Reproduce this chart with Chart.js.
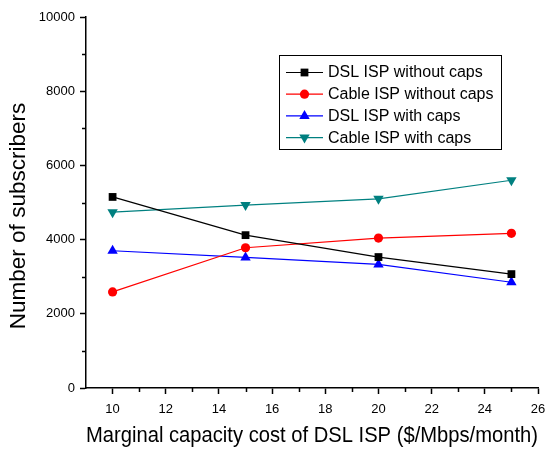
<!DOCTYPE html>
<html>
<head>
<meta charset="utf-8">
<script src="https://cdn.jsdelivr.net/npm/chart.js@4/dist/chart.umd.min.js"></script>
<style>
  html, body { margin: 0; padding: 0; background: #fff; }
  #wrap { width: 547px; height: 451px; position: relative; }
</style>
</head>
<body>
<div id="wrap"><canvas id="c" width="547" height="451"></canvas></div>
<script>
const xValues = [10, 15, 20, 25];
const dslNoCaps = [5150, 4120, 3530, 3070];
const cableNoCaps = [2590, 3780, 4040, 4170];
const dslCaps = [3700, 3520, 3330, 2850];
const cableCaps = [4740, 4930, 5100, 5600];
const seriesNames = ['DSL ISP without caps', 'Cable ISP without caps', 'DSL ISP with caps', 'Cable ISP with caps'];
const xMajorTicks = [10, 12, 14, 16, 18, 20, 22, 24, 26];
const xMinorTicks = [11, 13, 15, 17, 19, 21, 23, 25];
const yMajorTicks = [0, 2000, 4000, 6000, 8000, 10000];
const yMinorTicks = [1000, 3000, 5000, 7000, 9000];
const xTitle = 'Marginal capacity cost of DSL ISP ($/Mbps/month)';
const yTitle = 'Number of subscribers';

const FONT = "'Liberation Sans', Arial, sans-serif";
const toPts = arr => arr.map((v, i) => ({ x: xValues[i], y: v }));

function ds(label, values, color, style, rotation, radius) {
  return {
    label, data: toPts(values),
    borderColor: color, backgroundColor: color,
    borderWidth: 1.2,
    pointStyle: style, pointRotation: rotation, pointRadius: radius,
    pointBorderWidth: 0, pointBackgroundColor: color, pointHoverRadius: radius,
    tension: 0, fill: false
  };
}

const datasets = [
  ds(seriesNames[0], dslNoCaps, '#000000', 'rect', 0, 5.5),
  ds(seriesNames[1], cableNoCaps, '#ff0000', 'circle', 0, 4.6),
  ds(seriesNames[2], dslCaps, '#0000ff', 'triangle', 0, 6),
  ds(seriesNames[3], cableCaps, '#008080', 'triangle', 180, 6)
];

const extras = {
  id: 'extras',
  afterDraw(chart) {
    const ctx = chart.ctx;
    const xs = chart.scales.x, ys = chart.scales.y;
    ctx.save();
    // minor ticks
    ctx.strokeStyle = '#000';
    ctx.lineWidth = 1.5;
    ctx.beginPath();
    xMinorTicks.forEach(v => {
      const px = Math.round(xs.getPixelForValue(v)) + 0.5;
      ctx.moveTo(px, xs.top); ctx.lineTo(px, xs.top + 4);
    });
    yMinorTicks.forEach(v => {
      const py = Math.round(ys.getPixelForValue(v)) + 0.5;
      ctx.moveTo(ys.right, py); ctx.lineTo(ys.right - 4, py);
    });
    ctx.stroke();

    // y title
    ctx.fillStyle = '#000';
    ctx.font = '22.5px ' + FONT;
    ctx.translate(25, 216);
    ctx.rotate(-Math.PI / 2);
    ctx.textAlign = 'center';
    ctx.textBaseline = 'alphabetic';
    ctx.fillText(yTitle, 0, 0);
    ctx.restore();

    // legend
    ctx.save();
    const bx = 279.5, by = 55.5, bw = 222, bh = 94;
    ctx.fillStyle = '#fff';
    ctx.fillRect(bx, by, bw, bh);
    ctx.strokeStyle = '#000';
    ctx.lineWidth = 1;
    ctx.strokeRect(bx, by, bw, bh);
    ctx.font = '16px ' + FONT;
    ctx.textBaseline = 'middle';
    ctx.textAlign = 'left';
    chart.data.datasets.forEach((d, i) => {
      const y = 72.5 + i * 21.7;
      ctx.strokeStyle = d.borderColor;
      ctx.lineWidth = 1.2;
      ctx.beginPath();
      ctx.moveTo(286, y); ctx.lineTo(323, y);
      ctx.stroke();
      ctx.fillStyle = d.backgroundColor;
      Chart.helpers.drawPoint(ctx, { pointStyle: d.pointStyle, rotation: d.pointRotation, radius: d.pointRadius, borderWidth: 0 }, 304.5, y);
      ctx.fillStyle = '#000';
      ctx.fillText(d.label, 328, y + 0.5);
    });
    ctx.restore();
  }
};

new Chart(document.getElementById('c'), {
  type: 'line',
  data: { datasets },
  plugins: [extras],
  options: {
    responsive: false,
    animation: false,
    events: [],
    layout: { padding: { top: 17, right: 9, left: 0, bottom: 0 } },
    plugins: { legend: { display: false }, tooltip: { enabled: false } },
    scales: {
      x: {
        type: 'linear', min: 9, max: 26,
        afterBuildTicks: s => { s.ticks = xMajorTicks.map(v => ({ value: v })); },
        afterFit: s => { s.height = 63; s.paddingLeft = 0; s.paddingRight = 0; },
        border: { display: true, color: '#000', width: 1.5 },
        grid: { display: true, drawOnChartArea: false, drawTicks: true, tickLength: 6, tickColor: '#000', tickWidth: 1.5 },
        ticks: { color: '#000', font: { family: FONT, size: 13 }, padding: 8, maxRotation: 0, autoSkip: false, callback: v => String(v) },
        title: { display: true, text: xTitle, color: '#000', font: { family: FONT, size: 22.6 }, padding: { top: 0, bottom: 2 } }
      },
      y: {
        type: 'linear', min: 0, max: 10000,
        afterBuildTicks: s => { s.ticks = yMajorTicks.map(v => ({ value: v })); },
        afterFit: s => { s.width = 86; s.paddingTop = 0; s.paddingBottom = 0; },
        border: { display: true, color: '#000', width: 1.5 },
        grid: { display: true, drawOnChartArea: false, drawTicks: true, tickLength: 6, tickColor: '#000', tickWidth: 1.5 },
        ticks: { color: '#000', font: { family: FONT, size: 13 }, padding: 5, autoSkip: false, callback: v => String(v) }
      }
    }
  }
});
</script>
</body>
</html>
